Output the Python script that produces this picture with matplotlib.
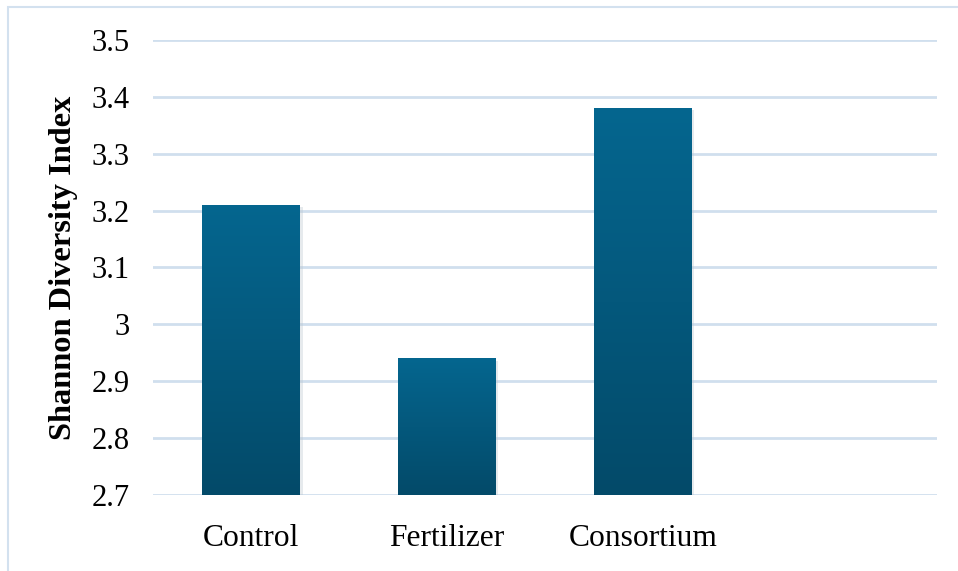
import numpy as np
import matplotlib.pyplot as plt
from matplotlib.colors import LinearSegmentedColormap
from matplotlib.patches import Rectangle

plt.rcParams['font.family'] = ['Liberation Serif', 'DejaVu Serif']

# Dữ liệu
categories = ['Control', 'Fertilizer', 'Consortium', '']
values = [3.21, 2.94, 3.38, np.nan]
yticks = [2.7, 2.8, 2.9, 3.0, 3.1, 3.2, 3.3, 3.4, 3.5]
ytick_labels = ['2.7', '2.8', '2.9', '3', '3.1', '3.2', '3.3', '3.4', '3.5']

fig = plt.figure(figsize=(9.58, 5.71), dpi=100)
ax = fig.add_axes([0.16, 0.1331, 0.818, 0.797])

# Khung viền nhạt quanh biểu đồ
fig.patches.append(Rectangle((8 / 958, -0.05), 1.1, 1 - 7.5 / 571 + 0.05,
                             transform=fig.transFigure, fill=False,
                             edgecolor='#d3e1ef', linewidth=1.5, zorder=0))

x = np.arange(len(categories))
bars = ax.bar(x, values, width=0.5, bottom=0, color='none', zorder=3)

ax.set_xlim(-0.5, len(categories) - 0.5)
ax.set_ylim(2.7, 3.5)

# Tô màu chuyển sắc cho từng cột
cmap = LinearSegmentedColormap.from_list('blue', ['#034a69', '#05668f'])
grad = np.linspace(0, 1, 256).reshape(-1, 1)
for b in bars:
    h = b.get_height()
    if np.isnan(h):
        continue
    x0 = b.get_x()
    w = b.get_width()
    # bóng đổ nhẹ
    ax.add_patch(Rectangle((x0 + 0.012, 2.7), w, h - 2.7 - 0.004,
                           facecolor='#b9c3cc', alpha=0.35, edgecolor='none', zorder=2))
    im = ax.imshow(grad, extent=(x0, x0 + w, 2.7, h), origin='lower',
                   cmap=cmap, aspect='auto', zorder=3)
    im.set_clip_path(b)

# Lưới ngang
ax.set_yticks(yticks)
ax.set_yticklabels(ytick_labels)
ax.grid(axis='y', color='#d0dfee', linewidth=2, zorder=1)
ax.set_axisbelow(True)

ax.set_xticks(x)
ax.set_xticklabels(categories)
ax.tick_params(axis='y', length=0, labelsize=22, pad=17)
ax.tick_params(axis='x', length=0, labelsize=22.7, pad=21)

for s in ax.spines.values():
    s.set_visible(False)

ax.set_ylabel('Shannon Diversity Index', fontsize=23.3, fontweight='bold', labelpad=10)

fig.savefig('out.png', dpi=100)
